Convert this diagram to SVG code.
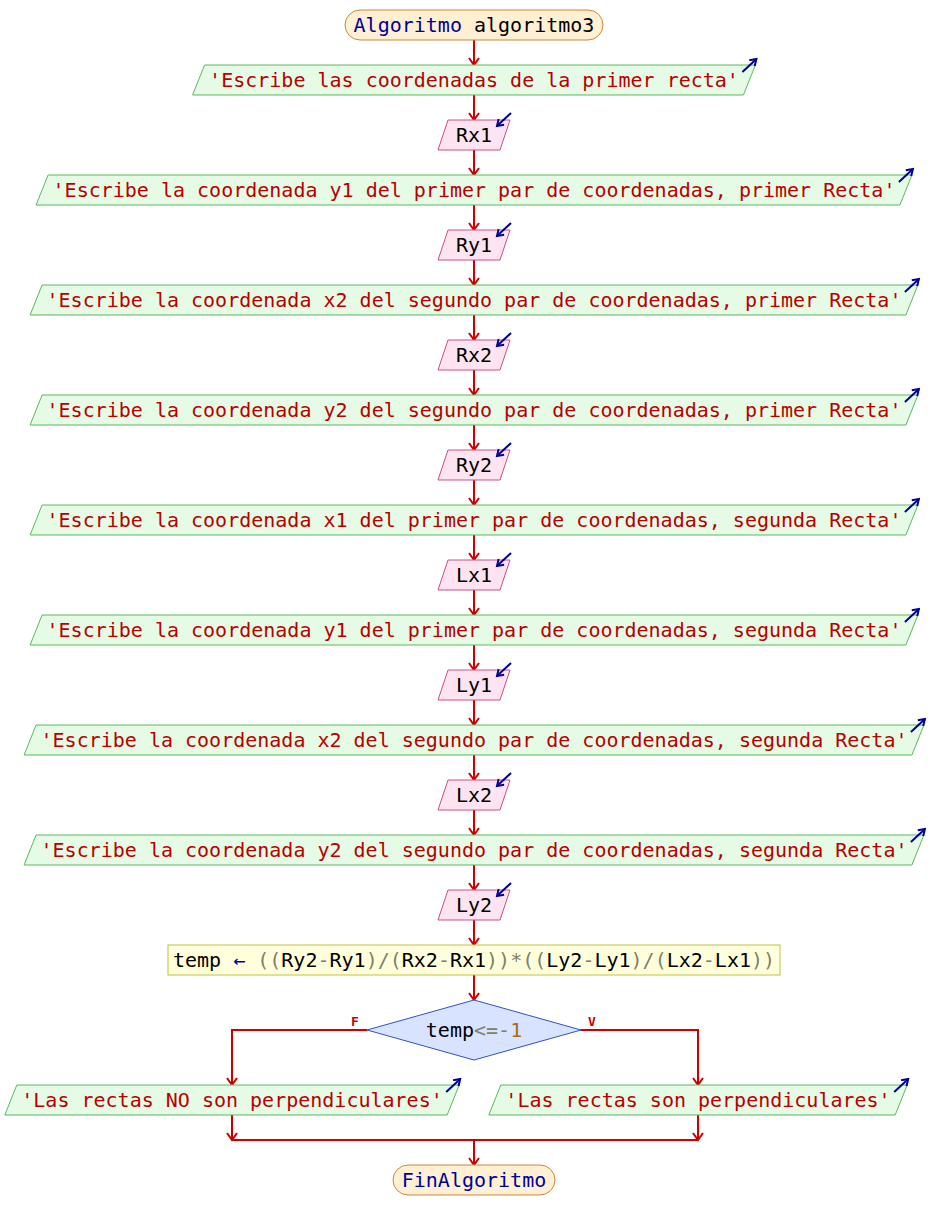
<svg xmlns="http://www.w3.org/2000/svg" width="928" height="1230" viewBox="0 0 928 1230">
<style>
.t{font-family:"DejaVu Sans Mono","Liberation Mono",monospace;font-size:20px;text-anchor:middle}
.str{fill:#b80000}
.kw{fill:#000099}
.id{fill:#000000}
.op{fill:#80806a}
.num{fill:#a86a20}
.out{fill:#e6fbe6;stroke:#5cb85c;stroke-width:1}
.in{fill:#fde4f0;stroke:#c8508c;stroke-width:1}
.term{fill:#fff0d4;stroke:#c8883c;stroke-width:1}
.asg{fill:#ffffdc;stroke:#c0c040;stroke-width:1}
.dec{fill:#d8e4ff;stroke:#3050c8;stroke-width:1}
.c{fill:none;stroke:#cc0000;stroke-width:2}
.ic{fill:none;stroke:#000099;stroke-width:2}
.lbl{font-family:"DejaVu Sans Mono","Liberation Mono",monospace;font-size:13px;font-weight:bold;fill:#cc0000;text-anchor:middle}
</style>
<defs>
<marker id="ah" markerUnits="userSpaceOnUse" markerWidth="14" markerHeight="14" viewBox="0 0 14 14" refX="11" refY="7" orient="auto">
<path d="M4,2 L11,7 L4,12" fill="none" stroke="#cc0000" stroke-width="2"/>
</marker>
<marker id="ih" markerUnits="userSpaceOnUse" markerWidth="12" markerHeight="12" viewBox="0 0 12 12" refX="9" refY="6" orient="auto">
<path d="M3,2 L9,6 L3,10" fill="none" stroke="#000099" stroke-width="2"/>
</marker>
</defs>
<g id="connectors">
<path class="c" marker-end="url(#ah)" d="M474,40 V65"/>
<path class="c" marker-end="url(#ah)" d="M474,95 V120"/>
<path class="c" marker-end="url(#ah)" d="M474,150 V175"/>
<path class="c" marker-end="url(#ah)" d="M474,205 V230"/>
<path class="c" marker-end="url(#ah)" d="M474,260 V285"/>
<path class="c" marker-end="url(#ah)" d="M474,315 V340"/>
<path class="c" marker-end="url(#ah)" d="M474,370 V395"/>
<path class="c" marker-end="url(#ah)" d="M474,425 V450"/>
<path class="c" marker-end="url(#ah)" d="M474,480 V505"/>
<path class="c" marker-end="url(#ah)" d="M474,535 V560"/>
<path class="c" marker-end="url(#ah)" d="M474,590 V615"/>
<path class="c" marker-end="url(#ah)" d="M474,645 V670"/>
<path class="c" marker-end="url(#ah)" d="M474,700 V725"/>
<path class="c" marker-end="url(#ah)" d="M474,755 V780"/>
<path class="c" marker-end="url(#ah)" d="M474,810 V835"/>
<path class="c" marker-end="url(#ah)" d="M474,865 V890"/>
<path class="c" marker-end="url(#ah)" d="M474,920 V945"/>
<path class="c" marker-end="url(#ah)" d="M474,975 V1000"/>
<path class="c" marker-end="url(#ah)" d="M367,1030 H232 V1085"/>
<path class="c" marker-end="url(#ah)" d="M581,1030 H698 V1085"/>
<path class="c" marker-end="url(#ah)" d="M232,1115 V1140"/>
<path class="c" marker-end="url(#ah)" d="M698,1115 V1140"/>
<path class="c" d="M232,1140 H698"/>
<path class="c" marker-end="url(#ah)" d="M474,1140 V1165"/>
<text class="lbl" x="355" y="1026">F</text>
<text class="lbl" x="592" y="1026">V</text>
</g>
<g id="start">
<rect class="term" x="345" y="10" width="258" height="30" rx="15"/>
<text class="t" x="474" y="32"><tspan class="kw">Algoritmo</tspan> <tspan class="id">algoritmo3</tspan></text>
</g>
<g id="out1">
<polygon class="out" points="204.6,65 755.4,65 743.4,95 192.6,95"/>
<text class="t str" x="474" y="87">'Escribe las coordenadas de la primer recta'</text>
<path class="ic" marker-end="url(#ih)" d="M742.4,72 L756.4,59"/>
</g>
<g id="in1">
<polygon class="in" points="448,120 510,120 500,150 438,150"/>
<text class="t id" x="474" y="142">Rx1</text>
<path class="ic" marker-end="url(#ih)" d="M511,113 L497,126"/>
</g>
<g id="out2">
<polygon class="out" points="48.1,175 911.9,175 899.9,205 36.1,205"/>
<text class="t str" x="474" y="197">'Escribe la coordenada y1 del primer par de coordenadas, primer Recta'</text>
<path class="ic" marker-end="url(#ih)" d="M898.9,182 L912.9,169"/>
</g>
<g id="in2">
<polygon class="in" points="448,230 510,230 500,260 438,260"/>
<text class="t id" x="474" y="252">Ry1</text>
<path class="ic" marker-end="url(#ih)" d="M511,223 L497,236"/>
</g>
<g id="out3">
<polygon class="out" points="42.1,285 917.9,285 905.9,315 30.1,315"/>
<text class="t str" x="474" y="307">'Escribe la coordenada x2 del segundo par de coordenadas, primer Recta'</text>
<path class="ic" marker-end="url(#ih)" d="M904.9,292 L918.9,279"/>
</g>
<g id="in3">
<polygon class="in" points="448,340 510,340 500,370 438,370"/>
<text class="t id" x="474" y="362">Rx2</text>
<path class="ic" marker-end="url(#ih)" d="M511,333 L497,346"/>
</g>
<g id="out4">
<polygon class="out" points="42.1,395 917.9,395 905.9,425 30.1,425"/>
<text class="t str" x="474" y="417">'Escribe la coordenada y2 del segundo par de coordenadas, primer Recta'</text>
<path class="ic" marker-end="url(#ih)" d="M904.9,402 L918.9,389"/>
</g>
<g id="in4">
<polygon class="in" points="448,450 510,450 500,480 438,480"/>
<text class="t id" x="474" y="472">Ry2</text>
<path class="ic" marker-end="url(#ih)" d="M511,443 L497,456"/>
</g>
<g id="out5">
<polygon class="out" points="42.1,505 917.9,505 905.9,535 30.1,535"/>
<text class="t str" x="474" y="527">'Escribe la coordenada x1 del primer par de coordenadas, segunda Recta'</text>
<path class="ic" marker-end="url(#ih)" d="M904.9,512 L918.9,499"/>
</g>
<g id="in5">
<polygon class="in" points="448,560 510,560 500,590 438,590"/>
<text class="t id" x="474" y="582">Lx1</text>
<path class="ic" marker-end="url(#ih)" d="M511,553 L497,566"/>
</g>
<g id="out6">
<polygon class="out" points="42.1,615 917.9,615 905.9,645 30.1,645"/>
<text class="t str" x="474" y="637">'Escribe la coordenada y1 del primer par de coordenadas, segunda Recta'</text>
<path class="ic" marker-end="url(#ih)" d="M904.9,622 L918.9,609"/>
</g>
<g id="in6">
<polygon class="in" points="448,670 510,670 500,700 438,700"/>
<text class="t id" x="474" y="692">Ly1</text>
<path class="ic" marker-end="url(#ih)" d="M511,663 L497,676"/>
</g>
<g id="out7">
<polygon class="out" points="36.1,725 923.9,725 911.9,755 24.1,755"/>
<text class="t str" x="474" y="747">'Escribe la coordenada x2 del segundo par de coordenadas, segunda Recta'</text>
<path class="ic" marker-end="url(#ih)" d="M910.9,732 L924.9,719"/>
</g>
<g id="in7">
<polygon class="in" points="448,780 510,780 500,810 438,810"/>
<text class="t id" x="474" y="802">Lx2</text>
<path class="ic" marker-end="url(#ih)" d="M511,773 L497,786"/>
</g>
<g id="out8">
<polygon class="out" points="36.1,835 923.9,835 911.9,865 24.1,865"/>
<text class="t str" x="474" y="857">'Escribe la coordenada y2 del segundo par de coordenadas, segunda Recta'</text>
<path class="ic" marker-end="url(#ih)" d="M910.9,842 L924.9,829"/>
</g>
<g id="in8">
<polygon class="in" points="448,890 510,890 500,920 438,920"/>
<text class="t id" x="474" y="912">Ly2</text>
<path class="ic" marker-end="url(#ih)" d="M511,883 L497,896"/>
</g>
<g id="assign">
<rect class="asg" x="168" y="945" width="612" height="30"/>
<text class="t" x="474" y="967"><tspan class="id">temp</tspan> <tspan class="kw">←</tspan> <tspan class="op">((</tspan><tspan class="id">Ry2</tspan><tspan class="op">-</tspan><tspan class="id">Ry1</tspan><tspan class="op">)/(</tspan><tspan class="id">Rx2</tspan><tspan class="op">-</tspan><tspan class="id">Rx1</tspan><tspan class="op">))*((</tspan><tspan class="id">Ly2</tspan><tspan class="op">-</tspan><tspan class="id">Ly1</tspan><tspan class="op">)/(</tspan><tspan class="id">Lx2</tspan><tspan class="op">-</tspan><tspan class="id">Lx1</tspan><tspan class="op">))</tspan></text>
</g>
<g id="decision">
<polygon class="dec" points="474,1000 581,1030 474,1060 367,1030"/>
<text class="t" x="474" y="1037"><tspan class="id">temp</tspan><tspan class="op">&lt;=-</tspan><tspan class="num">1</tspan></text>
</g>
<g id="outNo">
<polygon class="out" points="16.8,1085 459.2,1085 447.2,1115 4.8,1115"/>
<text class="t str" x="232" y="1107">'Las rectas NO son perpendiculares'</text>
<path class="ic" marker-end="url(#ih)" d="M446.2,1092 L460.2,1079"/>
</g>
<g id="outYes">
<polygon class="out" points="500.8,1085 907.2,1085 895.2,1115 488.8,1115"/>
<text class="t str" x="698" y="1107">'Las rectas son perpendiculares'</text>
<path class="ic" marker-end="url(#ih)" d="M894.2,1092 L908.2,1079"/>
</g>
<g id="end">
<rect class="term" x="393" y="1165" width="162" height="30" rx="15"/>
<text class="t kw" x="474" y="1187">FinAlgoritmo</text>
</g>
</svg>
